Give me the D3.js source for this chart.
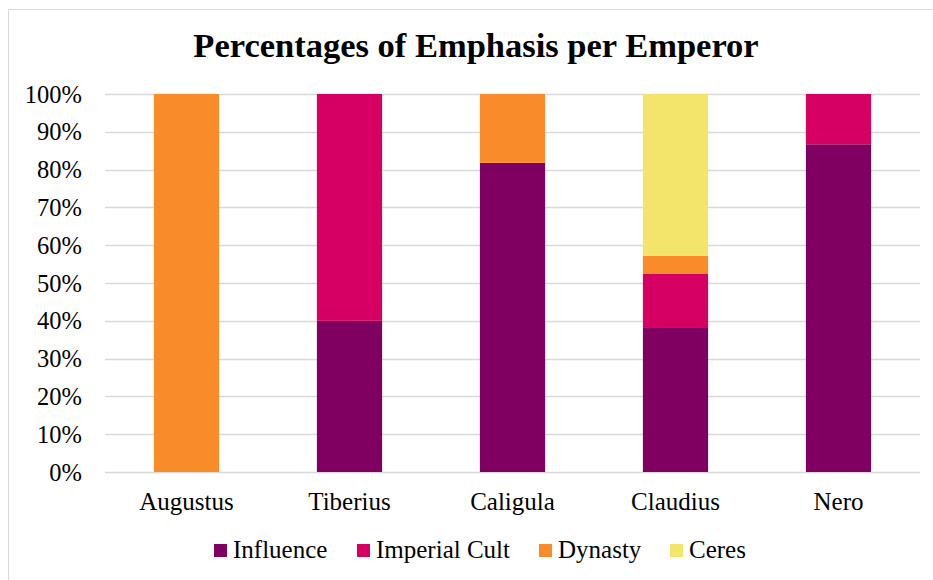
<!DOCTYPE html>
<html>
<head>
<meta charset="utf-8">
<script src="https://cdn.jsdelivr.net/npm/d3@7"></script>
<style>
  html, body { margin: 0; padding: 0; background: #fff; }
  svg { display: block; }
  svg text { font-family: "Liberation Serif", "Times New Roman", serif !important; fill: #000; }
</style>
</head>
<body>
<svg id="chart" width="933" height="580"></svg>
<script>
// Emperors along the x axis
const emperors = ["Augustus", "Tiberius", "Caligula", "Claudius", "Nero"];
// Share of emphasis per category (percent of each emperor's total)
const influence    = [0, 40, 81.8, 38.1, 86.7];
const imperialCult = [0, 60, 0, 14.3, 13.3];
const dynasty      = [100, 0, 18.2, 4.8, 0];
const ceres        = [0, 0, 0, 42.8, 0];
const seriesNames  = ["Influence", "Imperial Cult", "Dynasty", "Ceres"];
const seriesColors = ["#7F0060", "#D60062", "#F98B28", "#F3E46B"];
const yTicks = [0, 10, 20, 30, 40, 50, 60, 70, 80, 90, 100];

const seriesValues = [influence, imperialCult, dynasty, ceres];
const rows = emperors.map((e, i) => {
  const r = { emperor: e };
  seriesNames.forEach((s, k) => { r[s] = seriesValues[k][i]; });
  return r;
});

const svg = d3.select("#chart");
const W = 933, H = 580;
const plot = { left: 105, right: 920, top: 94, bottom: 472 };
const serif = '"Liberation Serif", "Times New Roman", serif';

// Chart frame
svg.append("path")
  .attr("d", `M8.5,${H} L8.5,9.5 L${W},9.5`)
  .attr("fill", "none")
  .attr("stroke", "#d9d9d9")
  .attr("stroke-width", 1);

svg.append("text")
  .attr("x", 476).attr("y", 57)
  .attr("text-anchor", "middle")
  .style("font-family", serif)
  .style("font-size", "34.5px")
  .style("font-weight", "bold")
  .text("Percentages of Emphasis per Emperor");

const x = d3.scaleBand().domain(emperors).range([plot.left, plot.right]).paddingInner(0.6).paddingOuter(0.3);
const y = d3.scaleLinear().domain([0, 100]).range([plot.bottom, plot.top]);

// Gridlines
svg.append("g")
  .selectAll("line")
  .data(yTicks)
  .join("line")
  .attr("x1", plot.left).attr("x2", plot.right)
  .attr("y1", d => Math.round(y(d)) + 0.5).attr("y2", d => Math.round(y(d)) + 0.5)
  .attr("stroke", "#d9d9d9").attr("stroke-width", 1.3);

// Stacked bars
const stack = d3.stack().keys(seriesNames)(rows);
const color = d3.scaleOrdinal().domain(seriesNames).range(seriesColors);
svg.append("g")
  .selectAll("g")
  .data(stack)
  .join("g")
  .attr("fill", d => color(d.key))
  .selectAll("rect")
  .data(d => d.filter(p => p[1] - p[0] > 0))
  .join("rect")
  .attr("x", d => x(d.data.emperor))
  .attr("width", x.bandwidth())
  .attr("y", d => y(d[1]))
  .attr("height", d => y(d[0]) - y(d[1]));

// Y axis labels
const yAxis = d3.axisLeft(y).tickValues(yTicks).tickFormat(d => d + "%").tickSize(0).tickPadding(0);
const gy = svg.append("g").attr("transform", `translate(82,0)`).call(yAxis);
gy.select(".domain").remove();
gy.selectAll("text")
  .style("font-family", serif).style("font-size", "24.5px")
  .attr("fill", "#000").attr("dy", "0.33em");

// X axis labels
const xAxis = d3.axisBottom(x).tickSize(0).tickPadding(0);
const gx = svg.append("g").attr("transform", `translate(0,510)`).call(xAxis);
gx.select(".domain").remove();
gx.selectAll("text")
  .style("font-family", serif).style("font-size", "25px")
  .attr("fill", "#000").attr("dy", "0");

// Legend
const legendItems = [
  { name: "Influence", x: 214 },
  { name: "Imperial Cult", x: 357 },
  { name: "Dynasty", x: 539 },
  { name: "Ceres", x: 670 }
];
const lg = svg.append("g").attr("transform", "translate(0,558)");
legendItems.forEach(it => {
  lg.append("rect").attr("x", it.x).attr("y", -14).attr("width", 13).attr("height", 13).attr("fill", color(it.name));
  lg.append("text").attr("x", it.x + 19).attr("y", 0)
    .style("font-family", serif).style("font-size", "25px").text(it.name);
});
</script>
</body>
</html>
